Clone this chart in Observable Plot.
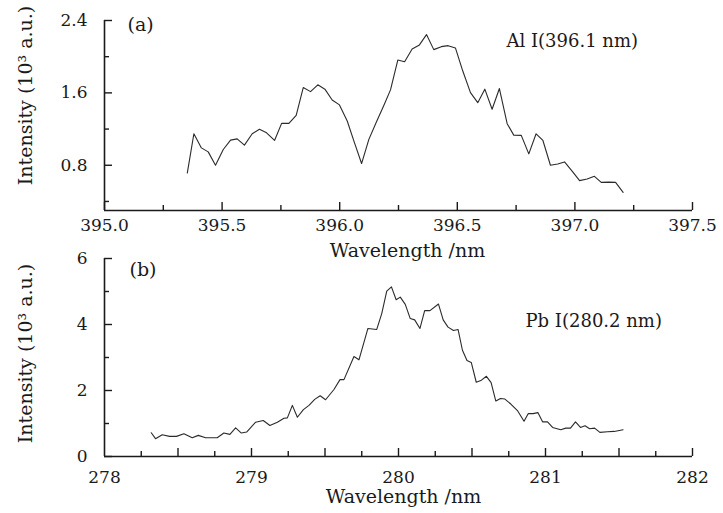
<!DOCTYPE html>
<html>
<head>
<meta charset="utf-8">
<script src="https://cdn.jsdelivr.net/npm/d3@7"></script>
<script src="https://cdn.jsdelivr.net/npm/@observablehq/plot@0.6"></script>
<style>
  html, body { margin: 0; padding: 0; background: #fff; }
  #chart { width: 723px; }
  #chart svg { display: block; overflow: visible; }
</style>
</head>
<body>
<div id="chart"></div>
<script>
// Panel (a): Al I emission line around 396.1 nm
const alWavelength = [395.352,395.380,395.412,395.441,395.472,395.505,395.536,395.564,395.595,395.628,
  395.659,395.689,395.723,395.753,395.784,395.815,395.845,395.876,395.907,395.937,
  395.968,395.999,396.032,396.063,396.093,396.124,396.156,396.188,396.216,396.247,
  396.276,396.308,396.339,396.369,396.400,396.432,396.461,396.492,396.523,396.556,
  396.587,396.617,396.648,396.679,396.712,396.740,396.772,396.804,396.835,396.864,
  396.896,396.927,396.956,396.989,397.020,397.052,397.083,397.112,397.144,397.173,397.205];
const alIntensity = [0.714,1.148,0.992,0.948,0.800,0.974,1.078,1.092,1.022,1.148,
  1.197,1.159,1.074,1.263,1.263,1.352,1.659,1.614,1.689,1.641,
  1.522,1.467,1.289,1.048,0.819,1.086,1.278,1.463,1.633,1.963,
  1.944,2.086,2.130,2.244,2.078,2.111,2.122,2.097,1.844,1.603,
  1.492,1.641,1.419,1.648,1.259,1.133,1.130,0.926,1.148,1.074,
  0.800,0.814,0.837,0.733,0.630,0.648,0.678,0.611,0.614,0.611,0.500];

// Panel (b): Pb I emission line around 280.2 nm
const pbWavelength = [278.318,278.347,278.393,278.442,278.490,278.540,278.597,278.638,278.688,278.767,
  278.812,278.853,278.892,278.931,278.967,279.028,279.080,279.125,279.176,279.221,
  279.244,279.278,279.312,279.353,279.391,279.430,279.467,279.504,279.561,279.602,
  279.629,279.697,279.731,279.792,279.852,279.886,279.920,279.952,279.984,280.012,
  280.046,280.080,280.110,280.146,280.178,280.214,280.272,280.304,280.337,280.374,
  280.405,280.435,280.466,280.495,280.529,280.560,280.598,280.630,280.662,280.694,
  280.724,280.764,280.811,280.854,280.883,280.915,280.948,280.980,281.014,281.048,
  281.104,281.138,281.170,281.204,281.238,281.269,281.300,281.334,281.370,281.422,
  281.467,281.528];
const pbIntensity = [0.72,0.54,0.66,0.61,0.61,0.69,0.57,0.64,0.57,0.57,
  0.71,0.67,0.87,0.71,0.74,1.04,1.09,0.94,1.04,1.16,
  1.17,1.55,1.19,1.42,1.55,1.73,1.84,1.72,2.03,2.33,
  2.33,3.03,2.93,3.88,3.85,4.33,5.01,5.14,4.75,4.83,
  4.61,4.18,4.14,3.88,4.42,4.42,4.62,4.14,3.92,3.82,
  3.85,3.22,2.91,2.85,2.25,2.30,2.43,2.24,1.68,1.76,
  1.74,1.59,1.38,1.07,1.30,1.30,1.33,1.05,1.05,0.88,
  0.81,0.86,0.86,1.05,0.88,0.93,0.84,0.86,0.73,0.75,
  0.76,0.81];

// Axis domains and ticks
const alXDomain = [395.0, 397.5];
const alYDomain = [0.3, 2.4];
const alXTicks = [395.0, 395.5, 396.0, 396.5, 397.0, 397.5];
const alXMinor = [395.25, 395.75, 396.25, 396.75, 397.25];
const alYTicks = [0.8, 1.6, 2.4];
const alYMinor = [0.4, 1.2, 2.0];

const pbXDomain = [278, 282];
const pbYDomain = [0, 6];
const pbXTicks = [278, 279, 280, 281, 282];
const pbXMajor = [278.5, 279, 279.5, 280, 280.5, 281, 281.5, 282];
const pbXMinor = [278.25, 278.75, 279.25, 279.75, 280.25, 280.75, 281.25, 281.75];
const pbYTicks = [0, 2, 4, 6];
const pbYMinor = [1, 3, 5];

// Text
const xTitle = "Wavelength /nm";
const yTitle = "Intensity (10\u00B3 a.u.)";
const alTag = "(a)";
const alNote = "Al I(396.1 nm)";
const pbTag = "(b)";
const pbNote = "Pb I(280.2 nm)";

const W = 723, ML = 104, MR = 31;
const plotW = W - ML - MR;
const ink = "#1a1a1a";
const font = "'DejaVu Serif', serif";

function panel(o) {
  const plotH = o.height - o.marginTop - o.marginBottom;
  return Plot.plot({
    width: W,
    height: o.height,
    marginLeft: ML,
    marginRight: MR,
    marginTop: o.marginTop,
    marginBottom: o.marginBottom,
    style: {fontFamily: font, fontSize: "17px", color: ink, background: "transparent", overflow: "visible"},
    x: {domain: o.xDomain},
    y: {domain: o.yDomain},
    marks: [
      // tick labels
      Plot.axisX(o.xTicks, {tickSize: 0, tickPadding: o.xPad, tickFormat: o.xFmt, label: null, fontSize: 17}),
      Plot.axisY(o.yTicks, {tickSize: 0, tickPadding: 17, tickFormat: o.yFmt, label: null, fontSize: 17}),
      // inward tick marks
      Plot.tickX(o.xMajor, {x: d => d, insetTop: plotH - 8, stroke: ink, strokeWidth: 1.4}),
      Plot.tickX(o.xMinor, {x: d => d, insetTop: plotH - 5, stroke: ink, strokeWidth: 1.4}),
      Plot.tickY(o.yMajor, {y: d => d, insetRight: plotW - 8, stroke: ink, strokeWidth: 1.4}),
      Plot.tickY(o.yMinor, {y: d => d, insetRight: plotW - 5, stroke: ink, strokeWidth: 1.4}),
      // axis lines
      Plot.ruleY([o.yDomain[0]], {stroke: ink, strokeWidth: 1.6}),
      Plot.ruleX([o.xDomain[0]], {stroke: ink, strokeWidth: 1.6}),
      // spectrum
      Plot.line(o.values, {x: o.wavelengths, y: o.values, stroke: "#2b2b2b", strokeWidth: 1.1}),
      // titles and annotations
      Plot.text([xTitle], {frameAnchor: "bottom", textAnchor: "middle", lineAnchor: "top", dx: o.xTitleDx, dy: o.xTitleDy, fontSize: 19, fill: ink}),
      Plot.text([yTitle], {frameAnchor: "left", textAnchor: "middle", lineAnchor: "middle", rotate: -90, dx: -79, dy: o.yTitleDy, fontSize: 19, fill: ink}),
      Plot.text([o.tag], {frameAnchor: "top-left", textAnchor: "start", lineAnchor: "middle", dx: o.tagDx, dy: o.tagDy, fontSize: 19, fill: ink}),
      Plot.text([o.note], {frameAnchor: "top-left", textAnchor: "start", lineAnchor: "middle", dx: o.noteDx, dy: o.noteDy, fontSize: 18, fill: ink})
    ]
  });
}

const chart = document.getElementById("chart");

chart.appendChild(panel({
  height: 250, marginTop: 20, marginBottom: 40,
  xDomain: alXDomain, yDomain: alYDomain,
  xTicks: alXTicks, xMajor: alXTicks, xMinor: alXMinor,
  yTicks: alYTicks, yMajor: alYTicks, yMinor: alYMinor,
  xFmt: d3.format(".1f"), yFmt: d3.format(".1f"), xPad: 8,
  wavelengths: alWavelength, values: alIntensity,
  xTitleDx: 9, xTitleDy: 33, yTitleDy: -20,
  tag: alTag, tagDx: 23, tagDy: 4,
  note: alNote, noteDx: 402, noteDy: 21
}));

chart.appendChild(panel({
  height: 263, marginTop: 8, marginBottom: 57,
  xDomain: pbXDomain, yDomain: pbYDomain,
  xTicks: pbXTicks, xMajor: pbXMajor, xMinor: pbXMinor,
  yTicks: pbYTicks, yMajor: pbYTicks, yMinor: pbYMinor,
  xFmt: d3.format("d"), yFmt: d3.format("d"), xPad: 14,
  wavelengths: pbWavelength, values: pbIntensity,
  xTitleDx: 5, xTitleDy: 33, yTitleDy: -4,
  tag: pbTag, tagDx: 25, tagDy: 11,
  note: pbNote, noteDx: 421, noteDy: 63
}));
</script>
</body>
</html>
